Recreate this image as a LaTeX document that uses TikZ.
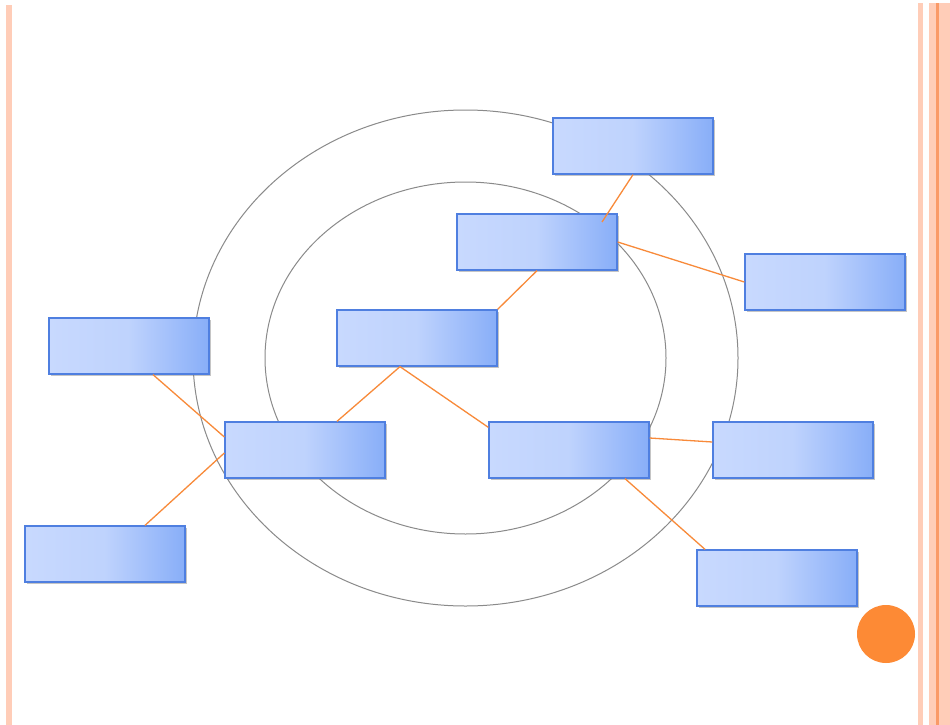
\documentclass[tikz,border=0pt]{standalone}
\usetikzlibrary{shadows}
\definecolor{boxL}{HTML}{C8D9FE}
\definecolor{boxR}{HTML}{88AEF8}
\definecolor{boxD}{HTML}{4F7FE0}
\definecolor{conn}{HTML}{F88A3A}
\definecolor{ring}{HTML}{8A8A8A}
\definecolor{edgeL}{HTML}{FFCDB8}
\definecolor{edgeD}{HTML}{FA9A68}
\definecolor{dot}{HTML}{FD8A35}
\tikzset{
  bluebox/.style={draw=boxD, line width=1.3pt, minimum width=160pt, minimum height=56pt,
    inner sep=0pt, left color=boxL, right color=boxR, middle color=boxL!85!boxR,
    drop shadow={shadow xshift=1.5pt, shadow yshift=-2pt, opacity=0.45}},
  link/.style={draw=conn, line width=1.3pt},
  ringline/.style={draw=ring, line width=1pt}
}
\begin{document}
\begin{tikzpicture}[x=1pt,y=-1pt]
\useasboundingbox (0,0) rectangle (950,725);
\fill[white] (0,0) rectangle (950,725);
% page edges
\fill[edgeL] (6,5) rectangle (12,725);
\fill[edgeL] (918,3) rectangle (923,725);
\fill[edgeL] (929,3) rectangle (950,725);
\fill[edgeD] (936,3) rectangle (939,725);
% rings
\draw[ringline] (465.5,358) ellipse [x radius=272.5, y radius=248];
\draw[ringline] (465.5,358) ellipse [x radius=200.5, y radius=176];
% nodes
\node[bluebox] (b1) at (633,146) {};
\node[bluebox] (b2) at (537,242) {};
\node[bluebox] (b3) at (825,282) {};
\node[bluebox] (b4) at (129,346) {};
\node[bluebox] (b5) at (417,338) {};
\node[bluebox] (b6) at (305,450) {};
\node[bluebox] (b7) at (569,450) {};
\node[bluebox] (b8) at (793,450) {};
\node[bluebox] (b9) at (105,554) {};
\node[bluebox] (b10) at (777,578) {};
% connectors
\coordinate (c1) at (602,222);
\draw[link] (b1.south) -- (c1);
\draw[link] (b2.east) -- (b3.west);
\draw[link] (b2.south) -- (b5.north east);
\draw[link] ([xshift=-17pt]b5.south) -- ([xshift=32pt]b6.north);
\draw[link] ([xshift=-17pt]b5.south) -- ([yshift=-6pt]b7.north west);
\draw[link] ([xshift=24pt]b4.south) -- ([yshift=13pt]b6.west);
\draw[link] ([yshift=-3pt]b6.west) -- ([xshift=40pt]b9.north);
\draw[link] ([yshift=12pt]b7.east) -- ([yshift=8pt]b8.west);
\draw[link] ([xshift=56pt]b7.south) -- ([xshift=-72pt]b10.north);
% dot
\fill[dot] (886,634) circle [radius=29];
\end{tikzpicture}
\end{document}
